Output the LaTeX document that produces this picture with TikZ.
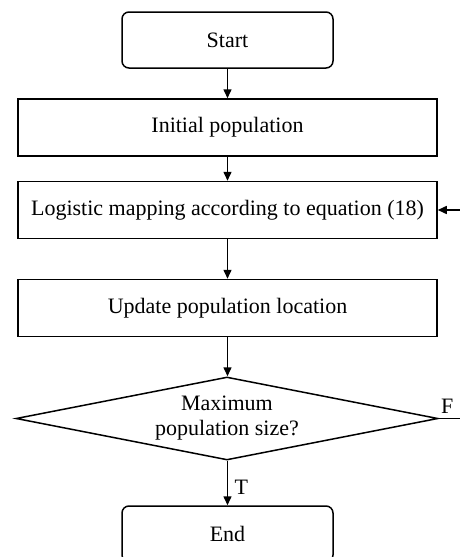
\documentclass[tikz,border=0pt]{standalone}
\usepackage{fontspec}
\setmainfont{Liberation Serif}
\usetikzlibrary{shapes.geometric,arrows.meta,calc}
\begin{document}
\begin{tikzpicture}[x=1pt,y=-1pt,
  every node/.style={font=\fontsize{22}{25}\selectfont},
  line/.style={line width=1.5pt},
  flow/.style={line, -{Triangle[length=9pt,width=8pt]}},
  term/.style={draw, line, rounded corners=7pt, minimum width=211pt, minimum height=56pt, inner sep=0pt},
  procbox/.style={draw, line, minimum width=419pt, minimum height=57pt, inner sep=0pt},
  decide/.style={draw, line, diamond, shape aspect=5, minimum width=422pt, minimum height=83pt, inner sep=0pt}]
  \useasboundingbox (0,0) rectangle (459,557);

  \node[term] (start) at (227.5,40) {Start};
  \node[procbox] (init) at (227.5,127.5) {Initial population};
  \node[procbox] (logi) at (227.5,210) {Logistic mapping according to equation (18)};
  \node[procbox] (upd) at (227.5,308) {Update population location};
  \node[decide] (dec) at (227,418.5) {};
  \node[align=center] (dectext) at (227,418.5) {Maximum\\population size?};
  \node[term] (stop) at (227.5,534) {End};

  \coordinate (fin) at (460,210);
  \coordinate (fout) at (460,418.5);

  \draw[flow] (start) -- (init);
  \draw[flow] (init) -- (logi);
  \draw[flow] (logi) -- (upd);
  \draw[flow] (upd.south) -- (upd.south |- dec.north);
  \draw[flow] (dec.south -| stop.north) -- node[right, xshift=3pt, yshift=-4pt] (tlab) {T} (stop);
  \draw[line] (dec.east) -- (fout);
  \node[above, yshift=1pt] (flab) at ($(dec.east)!0.4!(fout)$) {F};
  \draw[flow] (fin) -- (logi.east);
\end{tikzpicture}
\end{document}
